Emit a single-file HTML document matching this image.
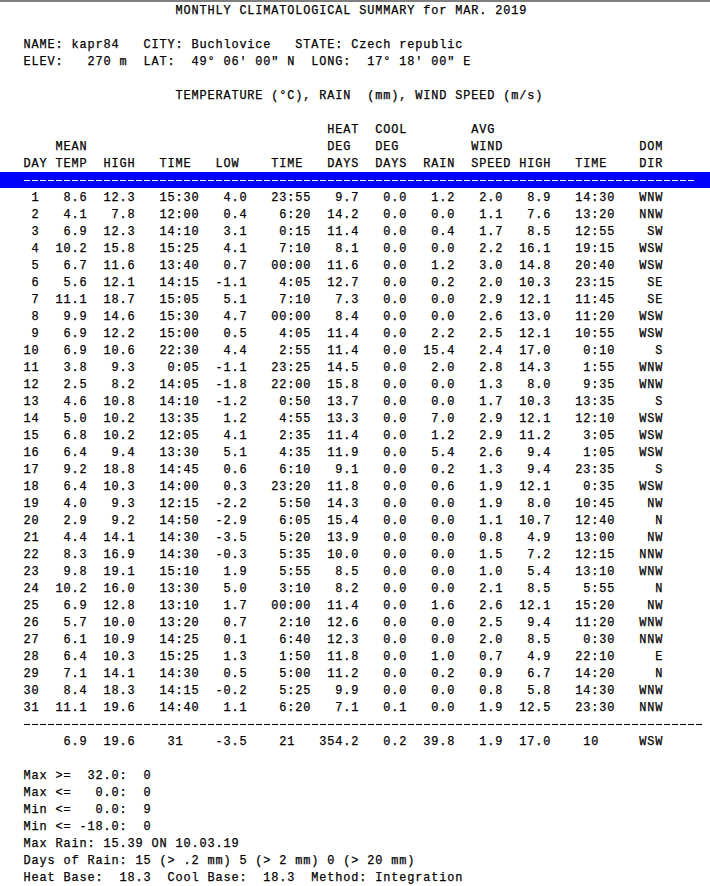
<!DOCTYPE html>
<html><head><meta charset="utf-8"><style>
html,body{margin:0;padding:0;background:#fff;width:710px;height:886px;overflow:hidden;position:relative}
.topbar{position:absolute;left:0;top:0;width:710px;height:2px;background:#808080}
.selbar{position:absolute;left:0;top:172px;width:710px;height:16px;background:#0000ff}
pre{position:absolute;left:23.5px;top:3px;margin:0;font-family:"Liberation Mono",monospace;font-size:11.9px;letter-spacing:0.86px;line-height:17px;color:#000;font-weight:normal;-webkit-text-stroke:0.25px #000}
.sel{color:#fff;-webkit-text-stroke:0.25px #fff}
.dash{position:absolute;height:1px;left:24px}
.d1{top:180px;width:670px;background:repeating-linear-gradient(to right,#fff 0,#fff 6px,transparent 6px,transparent 8px)}
.d2{top:724px;width:678px;background:repeating-linear-gradient(to right,#000 0,#000 6px,transparent 6px,transparent 8px)}

</style></head><body><div class="topbar"></div><div class="selbar"></div><div class="dash d1"></div><div class="dash d2"></div><pre>                   MONTHLY CLIMATOLOGICAL SUMMARY for MAR. 2019

NAME: kapr84   CITY: Buchlovice   STATE: Czech republic
ELEV:   270 m  LAT:  49° 06' 00" N  LONG:  17° 18' 00" E

                   TEMPERATURE (°C), RAIN  (mm), WIND SPEED (m/s)

                                      HEAT  COOL        AVG
    MEAN                              DEG   DEG         WIND                 DOM
DAY TEMP  HIGH   TIME   LOW    TIME   DAYS  DAYS  RAIN  SPEED HIGH   TIME    DIR

 1   8.6  12.3   15:30   4.0   23:55   9.7   0.0   1.2   2.0   8.9   14:30   WNW
 2   4.1   7.8   12:00   0.4    6:20  14.2   0.0   0.0   1.1   7.6   13:20   NNW
 3   6.9  12.3   14:10   3.1    0:15  11.4   0.0   0.4   1.7   8.5   12:55    SW
 4  10.2  15.8   15:25   4.1    7:10   8.1   0.0   0.0   2.2  16.1   19:15   WSW
 5   6.7  11.6   13:40   0.7   00:00  11.6   0.0   1.2   3.0  14.8   20:40   WSW
 6   5.6  12.1   14:15  -1.1    4:05  12.7   0.0   0.2   2.0  10.3   23:15    SE
 7  11.1  18.7   15:05   5.1    7:10   7.3   0.0   0.0   2.9  12.1   11:45    SE
 8   9.9  14.6   15:30   4.7   00:00   8.4   0.0   0.0   2.6  13.0   11:20   WSW
 9   6.9  12.2   15:00   0.5    4:05  11.4   0.0   2.2   2.5  12.1   10:55   WSW
10   6.9  10.6   22:30   4.4    2:55  11.4   0.0  15.4   2.4  17.0    0:10     S
11   3.8   9.3    0:05  -1.1   23:25  14.5   0.0   2.0   2.8  14.3    1:55   WNW
12   2.5   8.2   14:05  -1.8   22:00  15.8   0.0   0.0   1.3   8.0    9:35   WNW
13   4.6  10.8   14:10  -1.2    0:50  13.7   0.0   0.0   1.7  10.3   13:35     S
14   5.0  10.2   13:35   1.2    4:55  13.3   0.0   7.0   2.9  12.1   12:10   WSW
15   6.8  10.2   12:05   4.1    2:35  11.4   0.0   1.2   2.9  11.2    3:05   WSW
16   6.4   9.4   13:30   5.1    4:35  11.9   0.0   5.4   2.6   9.4    1:05   WSW
17   9.2  18.8   14:45   0.6    6:10   9.1   0.0   0.2   1.3   9.4   23:35     S
18   6.4  10.3   14:00   0.3   23:20  11.8   0.0   0.6   1.9  12.1    0:35   WSW
19   4.0   9.3   12:15  -2.2    5:50  14.3   0.0   0.0   1.9   8.0   10:45    NW
20   2.9   9.2   14:50  -2.9    6:05  15.4   0.0   0.0   1.1  10.7   12:40     N
21   4.4  14.1   14:30  -3.5    5:20  13.9   0.0   0.0   0.8   4.9   13:00    NW
22   8.3  16.9   14:30  -0.3    5:35  10.0   0.0   0.0   1.5   7.2   12:15   NNW
23   9.8  19.1   15:10   1.9    5:55   8.5   0.0   0.0   1.0   5.4   13:10   WNW
24  10.2  16.0   13:30   5.0    3:10   8.2   0.0   0.0   2.1   8.5    5:55     N
25   6.9  12.8   13:10   1.7   00:00  11.4   0.0   1.6   2.6  12.1   15:20    NW
26   5.7  10.0   13:20   0.7    2:10  12.6   0.0   0.0   2.5   9.4   11:20   WNW
27   6.1  10.9   14:25   0.1    6:40  12.3   0.0   0.0   2.0   8.5    0:30   NNW
28   6.4  10.3   15:25   1.3    1:50  11.8   0.0   1.0   0.7   4.9   22:10     E
29   7.1  14.1   14:30   0.5    5:00  11.2   0.0   0.2   0.9   6.7   14:20     N
30   8.4  18.3   14:15  -0.2    5:25   9.9   0.0   0.0   0.8   5.8   14:30   WNW
31  11.1  19.6   14:40   1.1    6:20   7.1   0.1   0.0   1.9  12.5   23:30   NNW

     6.9  19.6    31    -3.5    21   354.2   0.2  39.8   1.9  17.0    10     WSW

Max &gt;=  32.0:  0
Max &lt;=   0.0:  0
Min &lt;=   0.0:  9
Min &lt;= -18.0:  0
Max Rain: 15.39 ON 10.03.19
Days of Rain: 15 (&gt; .2 mm) 5 (&gt; 2 mm) 0 (&gt; 20 mm)
Heat Base:  18.3  Cool Base:  18.3  Method: Integration</pre></body></html>
